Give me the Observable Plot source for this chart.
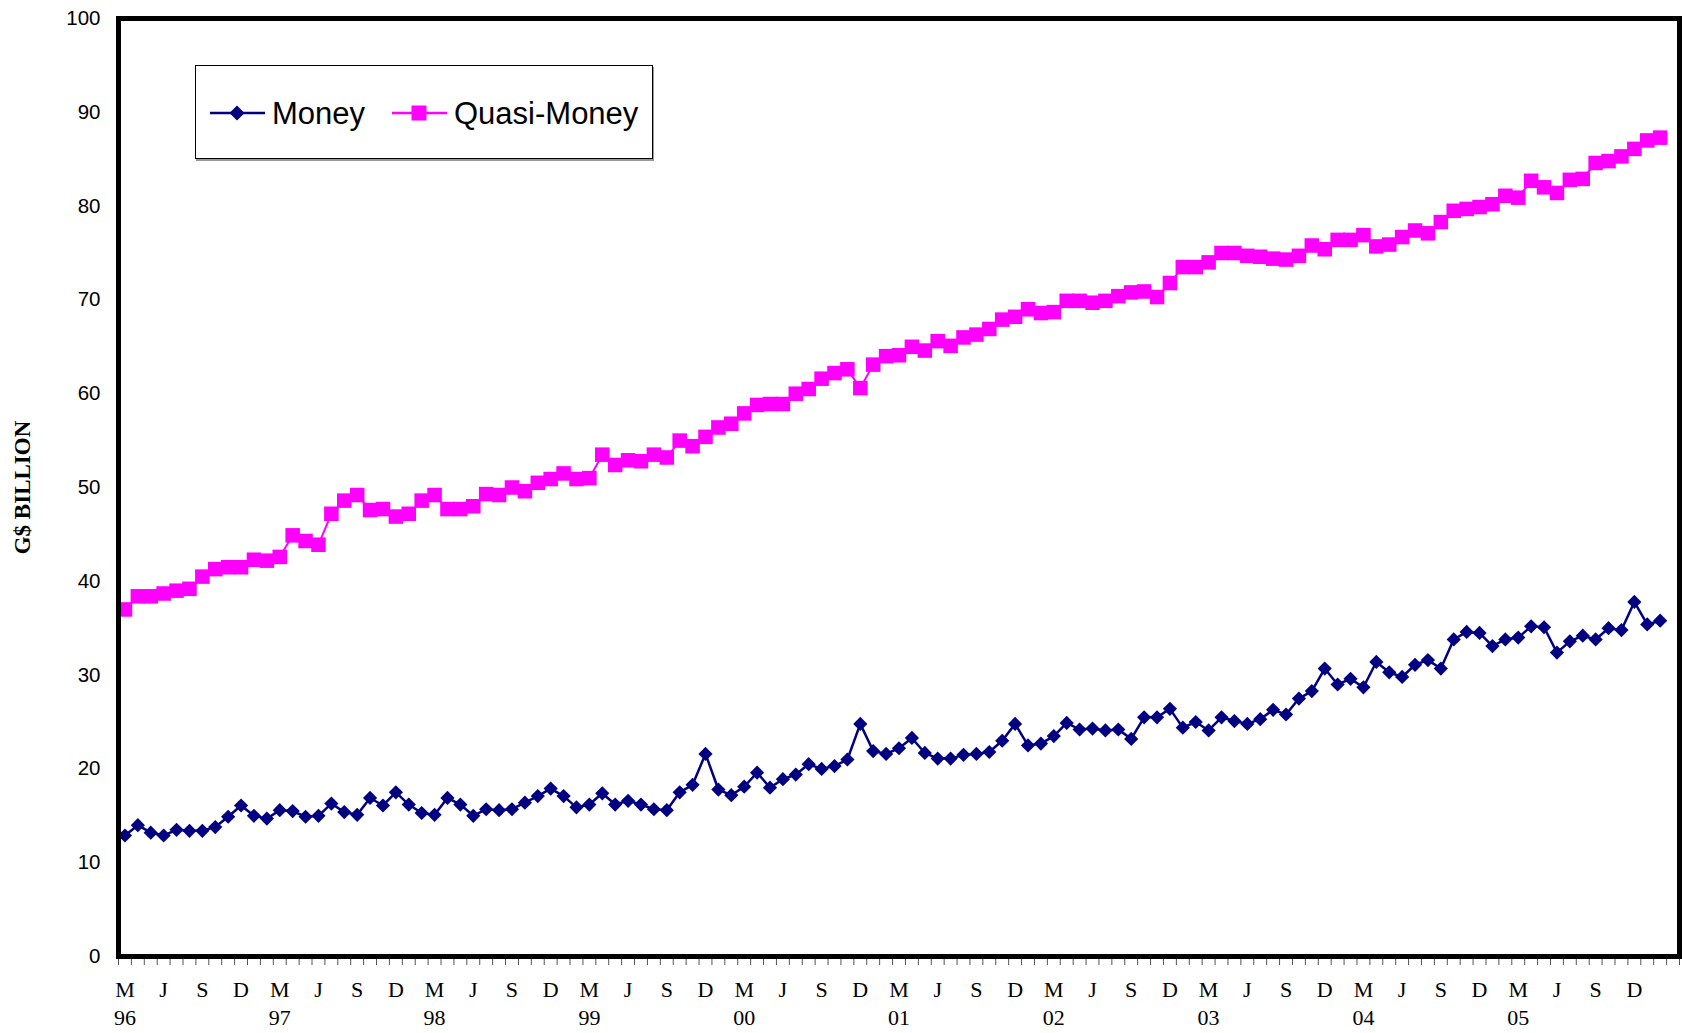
<!DOCTYPE html>
<html><head><meta charset="utf-8">
<script src="https://cdn.jsdelivr.net/npm/d3@7"></script>
<script src="https://cdn.jsdelivr.net/npm/@observablehq/plot@0.6"></script>
<style>
body{margin:0;background:#fff;}
#wrap{position:relative;width:1682px;height:1033px;}
#legend{position:absolute;left:195px;top:65px;width:458px;height:94px;box-sizing:border-box;border:1px solid #000;background:#fff;box-shadow:1px 2px 0 #999;}
#legend svg{display:block;}
</style></head><body><div id="wrap"></div>
<script>
// Monthly data, March 1996 .. February 2006 (G$ billion)
const money = [
  12.9, 14.0, 13.2, 12.9, 13.5, 13.4, 13.4, 13.8, 14.9, 16.1, 15.0, 14.7,
  15.6, 15.5, 14.9, 15.0, 16.3, 15.4, 15.1, 16.9, 16.1, 17.5, 16.2, 15.3,
  15.1, 16.9, 16.2, 15.0, 15.7, 15.6, 15.7, 16.4, 17.1, 17.9, 17.1, 15.9,
  16.2, 17.4, 16.2, 16.6, 16.2, 15.7, 15.6, 17.5, 18.3, 21.6, 17.8, 17.2,
  18.1, 19.6, 18.0, 18.9, 19.4, 20.5, 20.0, 20.3, 21.0, 24.8, 21.9, 21.6,
  22.2, 23.3, 21.7, 21.1, 21.1, 21.5, 21.6, 21.8, 23.0, 24.8, 22.5, 22.7,
  23.5, 24.9, 24.2, 24.3, 24.1, 24.2, 23.2, 25.5, 25.5, 26.4, 24.4, 25.0,
  24.1, 25.5, 25.1, 24.8, 25.3, 26.3, 25.8, 27.5, 28.3, 30.7, 29.0, 29.6,
  28.7, 31.4, 30.3, 29.8, 31.1, 31.6, 30.7, 33.8, 34.6, 34.5, 33.1, 33.8,
  34.0, 35.2, 35.1, 32.4, 33.6, 34.2, 33.8, 35.0, 34.8, 37.8, 35.4, 35.8
];
const quasiMoney = [
  37.0, 38.4, 38.4, 38.7, 39.0, 39.2, 40.5, 41.3, 41.5, 41.5, 42.3, 42.2,
  42.6, 44.9, 44.3, 43.9, 47.2, 48.6, 49.2, 47.6, 47.7, 46.9, 47.2, 48.6,
  49.2, 47.7, 47.7, 48.0, 49.3, 49.2, 50.0, 49.6, 50.5, 50.9, 51.5, 50.9,
  51.0, 53.5, 52.4, 52.9, 52.8, 53.5, 53.2, 55.0, 54.4, 55.4, 56.4, 56.8,
  57.9, 58.8, 58.9, 58.9, 60.0, 60.5, 61.6, 62.2, 62.6, 60.6, 63.1, 64.0,
  64.1, 65.0, 64.6, 65.6, 65.1, 66.0, 66.3, 66.9, 67.9, 68.2, 69.0, 68.6,
  68.7, 69.9, 69.9, 69.7, 69.9, 70.4, 70.8, 70.9, 70.3, 71.8, 73.5, 73.5,
  74.0, 75.0, 75.0, 74.7, 74.6, 74.4, 74.3, 74.7, 75.8, 75.4, 76.4, 76.4,
  76.9, 75.7, 75.9, 76.7, 77.4, 77.1, 78.3, 79.5, 79.7, 79.9, 80.2, 81.1,
  80.9, 82.7, 82.0, 81.4, 82.8, 82.9, 84.6, 84.8, 85.3, 86.1, 87.0, 87.3
];
const quarterLetters = ["M", "J", "S", "D"];
const yearLabels = ["96", "97", "98", "99", "00", "01", "02", "03", "04", "05"];
const yTicks = [0, 10, 20, 30, 40, 50, 60, 70, 80, 90, 100];
const seriesNames = ["Money", "Quasi-Money"];
const seriesColors = ["#000080", "#FF00FF"];
const yTitle = "G$ BILLION";

const rows = money.map((v, i) => ({i, money: v, quasi: quasiMoney[i]}));
const nCats = money.length + 1; // category axis with one trailing empty slot
const boundaryTicks = d3.range(-0.5, nCats, 1);
const quarterTicks = d3.range(0, money.length, 3);
const yearTicks = yearLabels.map((_, k) => k * 12);

const chart = Plot.plot({
  width: 1682, height: 1033,
  marginLeft: 118, marginRight: 3, marginTop: 18, marginBottom: 77,
  x: {domain: [-0.5, nCats - 0.5], axis: null},
  y: {domain: [0, 100], axis: null},
  marks: [
    Plot.axisX({ticks: boundaryTicks, tickSize: 9, tickFormat: () => "", stroke: "#555", label: null}),
    Plot.axisX({ticks: quarterTicks, tickSize: 0, tickPadding: 25, label: null,
      tickFormat: d => quarterLetters[(d / 3) % 4], fontSize: 22, fontFamily: "Liberation Serif", fill: "#000"}),
    Plot.axisX({ticks: yearTicks, tickSize: 0, tickPadding: 53, label: null,
      tickFormat: d => yearLabels[d / 12], fontSize: 22, fontFamily: "Liberation Serif", fill: "#000"}),
    Plot.axisY({ticks: yTicks, tickSize: 0, tickPadding: 18, label: null,
      fontSize: 20.5, fontFamily: "Liberation Sans", fill: "#000"}),
    Plot.text([yTitle], {text: d => d, frameAnchor: "left", textAnchor: "middle", lineAnchor: "middle",
      dx: -96, rotate: -90,
      fontSize: 23, fontWeight: "bold", fontFamily: "Liberation Serif", fill: "#000"}),
    Plot.line(rows, {x: "i", y: "quasi", stroke: seriesColors[1], strokeWidth: 2}),
    Plot.dot(rows, {x: "i", y: "quasi", symbol: "square", r: 8.2, fill: seriesColors[1], stroke: null}),
    Plot.line(rows, {x: "i", y: "money", stroke: seriesColors[0], strokeWidth: 2.5}),
    Plot.dot(rows, {x: "i", y: "money", symbol: "diamond2", r: 6.4, fill: seriesColors[0], stroke: null}),
    Plot.frame({stroke: "#000", strokeWidth: 5})
  ]
});
const wrap = document.getElementById("wrap");
wrap.appendChild(chart);

// Legend box inside the plot area
const legend = document.createElement("div");
legend.id = "legend";
const ns = "http://www.w3.org/2000/svg";
const lsvg = document.createElementNS(ns, "svg");
lsvg.setAttribute("width", 456); lsvg.setAttribute("height", 92);
const items = [
  {x0: 14, name: seriesNames[0], color: seriesColors[0], shape: "diamond"},
  {x0: 196, name: seriesNames[1], color: seriesColors[1], shape: "square"}
];
for (const it of items) {
  const cy = 47;
  const ln = document.createElementNS(ns, "line");
  ln.setAttribute("x1", it.x0); ln.setAttribute("x2", it.x0 + 55);
  ln.setAttribute("y1", cy); ln.setAttribute("y2", cy);
  ln.setAttribute("stroke", it.color); ln.setAttribute("stroke-width", 2.5);
  lsvg.appendChild(ln);
  const cx = it.x0 + 27;
  const sh = document.createElementNS(ns, "path");
  if (it.shape === "diamond") sh.setAttribute("d", `M${cx},${cy-7.5}L${cx+7.5},${cy}L${cx},${cy+7.5}L${cx-7.5},${cy}Z`);
  else sh.setAttribute("d", `M${cx-7.5},${cy-7.5}h15v15h-15Z`);
  sh.setAttribute("fill", it.color);
  lsvg.appendChild(sh);
  const tx = document.createElementNS(ns, "text");
  tx.setAttribute("x", it.x0 + 62); tx.setAttribute("y", cy + 11);
  tx.setAttribute("font-family", "Liberation Sans, Arial, sans-serif");
  tx.setAttribute("font-size", 31);
  tx.setAttribute("fill", "#000");
  tx.textContent = it.name;
  lsvg.appendChild(tx);
}
legend.appendChild(lsvg);
wrap.appendChild(legend);
</script>
</body></html>
